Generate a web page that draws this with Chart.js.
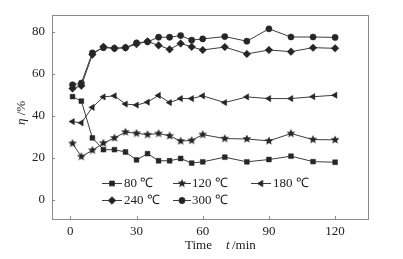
<!DOCTYPE html>
<html>
<head>
<meta charset="utf-8">
<script src="https://cdn.jsdelivr.net/npm/chart.js@4/dist/chart.umd.min.js"></script>
<style>
  html, body { margin: 0; padding: 0; background: #fff; }
  #c { display: block; }
</style>
</head>
<body>
<canvas id="c" width="403" height="259"></canvas>
<script>
// ---- data ----
const times = [1, 5, 10, 15, 20, 25, 30, 35, 40, 45, 50, 55, 60, 70, 80, 90, 100, 110, 120];
const eta80  = [49.1, 47.0, 29.4, 23.8, 23.8, 22.7, 18.9, 21.9, 18.5, 18.5, 19.6, 17.4, 18.0, 20.2, 18.0, 19.1, 20.7, 18.1, 17.8];
const eta120 = [26.8, 20.5, 23.5, 26.9, 29.4, 32.2, 31.6, 31.0, 31.5, 30.4, 27.9, 28.2, 31.0, 29.1, 28.9, 28.0, 31.5, 28.6, 28.5];
const eta180 = [37.2, 36.6, 44.0, 49.0, 49.5, 45.6, 45.1, 46.5, 49.7, 46.3, 48.2, 48.2, 49.5, 46.3, 49.0, 48.2, 48.2, 49.1, 49.8];
const eta240 = [53.0, 54.3, 69.2, 72.9, 72.2, 72.5, 74.2, 75.5, 73.6, 71.7, 74.5, 72.9, 71.4, 72.8, 69.5, 71.4, 70.6, 72.5, 72.2];
const eta300 = [54.8, 55.6, 70.0, 72.5, 72.2, 72.5, 74.8, 75.3, 77.5, 77.5, 78.3, 76.1, 76.7, 77.8, 75.6, 81.5, 77.6, 77.6, 77.4];
const seriesLabels = ['80 \u2103', '120 \u2103', '180 \u2103', '240 \u2103', '300 \u2103'];
const xTicks = [0, 30, 60, 90, 120];
const yTicks = [0, 20, 40, 60, 80];

// ---- styles ----
const FONT = "'Liberation Serif', 'Times New Roman', serif";
const LINE = '#3c3c3c';
const MARK = '#262626';
const AXIS = '#8a8a8a';
const TEXT = '#222';

function makeStar(r) {
  const s = Math.ceil(r * 2 + 2);
  const cv = document.createElement('canvas');
  cv.width = s; cv.height = s;
  const g = cv.getContext('2d');
  g.fillStyle = MARK;
  g.beginPath();
  for (let i = 0; i < 10; i++) {
    const a = -Math.PI / 2 + i * Math.PI / 5;
    const rr = i % 2 === 0 ? r : r * 0.45;
    const px = s / 2 + rr * Math.cos(a), py = s / 2 + rr * Math.sin(a);
    if (i === 0) g.moveTo(px, py); else g.lineTo(px, py);
  }
  g.closePath();
  g.fill();
  return cv;
}
const starImg = makeStar(4.6);

const styles = [
  { pointStyle: 'rect', radius: 3.4, rotation: 0 },
  { pointStyle: starImg, radius: 4.6, rotation: 0 },
  { pointStyle: 'triangle', radius: 3.6, rotation: -90 },
  { pointStyle: 'rectRot', radius: 3.8, rotation: 0 },
  { pointStyle: 'circle', radius: 3.1, rotation: 0 }
];
const seriesValues = [eta80, eta120, eta180, eta240, eta300];

const datasets = seriesValues.map((vals, i) => ({
  label: seriesLabels[i],
  data: times.map((t, j) => ({ x: t, y: vals[j] })),
  borderColor: LINE,
  borderWidth: 1,
  backgroundColor: MARK,
  pointBackgroundColor: MARK,
  pointBorderColor: MARK,
  pointBorderWidth: 0.5,
  pointStyle: styles[i].pointStyle,
  pointRadius: styles[i].radius,
  pointRotation: styles[i].rotation,
  tension: 0,
  fill: false
}));

// legend layout (pixel positions, inside the plot)
const legendLayout = [
  { row: 0, x1: 102, x2: 122, tx: 124 },
  { row: 0, x1: 173, x2: 191, tx: 192 },
  { row: 0, x1: 251, x2: 271, tx: 273 },
  { row: 1, x1: 102, x2: 122, tx: 124 },
  { row: 1, x1: 173, x2: 191, tx: 192 }
];
const legendRowsY = [183, 200];

const decor = {
  id: 'decor',
  afterDraw(chart) {
    const ctx = chart.ctx;
    const a = chart.chartArea;
    const xs = chart.scales.x, ys = chart.scales.y;
    ctx.save();
    // frame
    ctx.strokeStyle = AXIS;
    ctx.lineWidth = 1;
    ctx.strokeRect(Math.round(a.left) + 0.5, Math.round(a.top) + 0.5,
                   Math.round(a.right - a.left), Math.round(a.bottom - a.top));
    // inward ticks
    ctx.beginPath();
    xTicks.forEach(v => {
      const px = Math.round(xs.getPixelForValue(v)) + 0.5;
      ctx.moveTo(px, a.bottom);
      ctx.lineTo(px, a.bottom - 3);
    });
    yTicks.forEach(v => {
      const py = Math.round(ys.getPixelForValue(v)) + 0.5;
      ctx.moveTo(a.left, py);
      ctx.lineTo(a.left + 3, py);
    });
    ctx.stroke();

    // legend
    ctx.font = '13px ' + FONT;
    ctx.fillStyle = TEXT;
    ctx.textBaseline = 'middle';
    ctx.textAlign = 'left';
    legendLayout.forEach((L, i) => {
      const y = legendRowsY[L.row];
      ctx.strokeStyle = LINE;
      ctx.lineWidth = 1;
      ctx.beginPath();
      ctx.moveTo(L.x1, y + 0.5);
      ctx.lineTo(L.x2, y + 0.5);
      ctx.stroke();
      Chart.helpers.drawPoint(ctx, {
        pointStyle: styles[i].pointStyle,
        radius: styles[i].radius,
        rotation: styles[i].rotation,
        borderWidth: 0.5
      }, (L.x1 + L.x2) / 2, y + 0.5);
      ctx.fillStyle = MARK;
      ctx.strokeStyle = MARK;
      ctx.fill && 0;
      ctx.fillStyle = TEXT;
      ctx.fillText(seriesLabels[i], L.tx, y + 1);
    });

    // x title: "Time   t /min"
    ctx.textBaseline = 'alphabetic';
    ctx.font = '13px ' + FONT;
    ctx.fillText('Time', 185, 249);
    ctx.font = 'italic 13px ' + FONT;
    ctx.fillText('t', 226, 249);
    ctx.font = '13px ' + FONT;
    ctx.fillText('/min', 232, 249);

    // y title: "η /%" rotated
    ctx.translate(22, 113);
    ctx.rotate(-Math.PI / 2);
    ctx.textBaseline = 'middle';
    ctx.font = 'italic 13px ' + FONT;
    const w1 = ctx.measureText('\u03B7').width;
    ctx.font = '13px ' + FONT;
    const w2 = ctx.measureText(' /%').width;
    const start = -(w1 + w2) / 2;
    ctx.font = 'italic 13px ' + FONT;
    ctx.fillText('\u03B7', start, 0);
    ctx.font = '13px ' + FONT;
    ctx.fillText(' /%', start + w1, 0);
    ctx.restore();
  }
};

new Chart(document.getElementById('c'), {
  type: 'line',
  data: { datasets },
  options: {
    responsive: false,
    animation: false,
    devicePixelRatio: 1,
    layout: { padding: { top: 12, right: 35, left: 0, bottom: 0 } },
    plugins: { legend: { display: false }, tooltip: { enabled: false } },
    scales: {
      x: {
        type: 'linear',
        min: -8.3,
        max: 134.9,
        grid: { display: false, drawTicks: false },
        border: { display: false },
        ticks: { font: { family: FONT, size: 13 }, color: TEXT, padding: 5, maxRotation: 0 },
        afterBuildTicks: s => { s.ticks = xTicks.map(v => ({ value: v })); },
        afterFit: s => { s.height = 40; }
      },
      y: {
        type: 'linear',
        min: -9.3,
        max: 88.2,
        grid: { display: false, drawTicks: false },
        border: { display: false },
        ticks: { font: { family: FONT, size: 13 }, color: TEXT, padding: 7 },
        afterBuildTicks: s => { s.ticks = yTicks.map(v => ({ value: v })); },
        afterFit: s => { s.width = 52; }
      }
    }
  },
  plugins: [decor]
});
</script>
</body>
</html>
